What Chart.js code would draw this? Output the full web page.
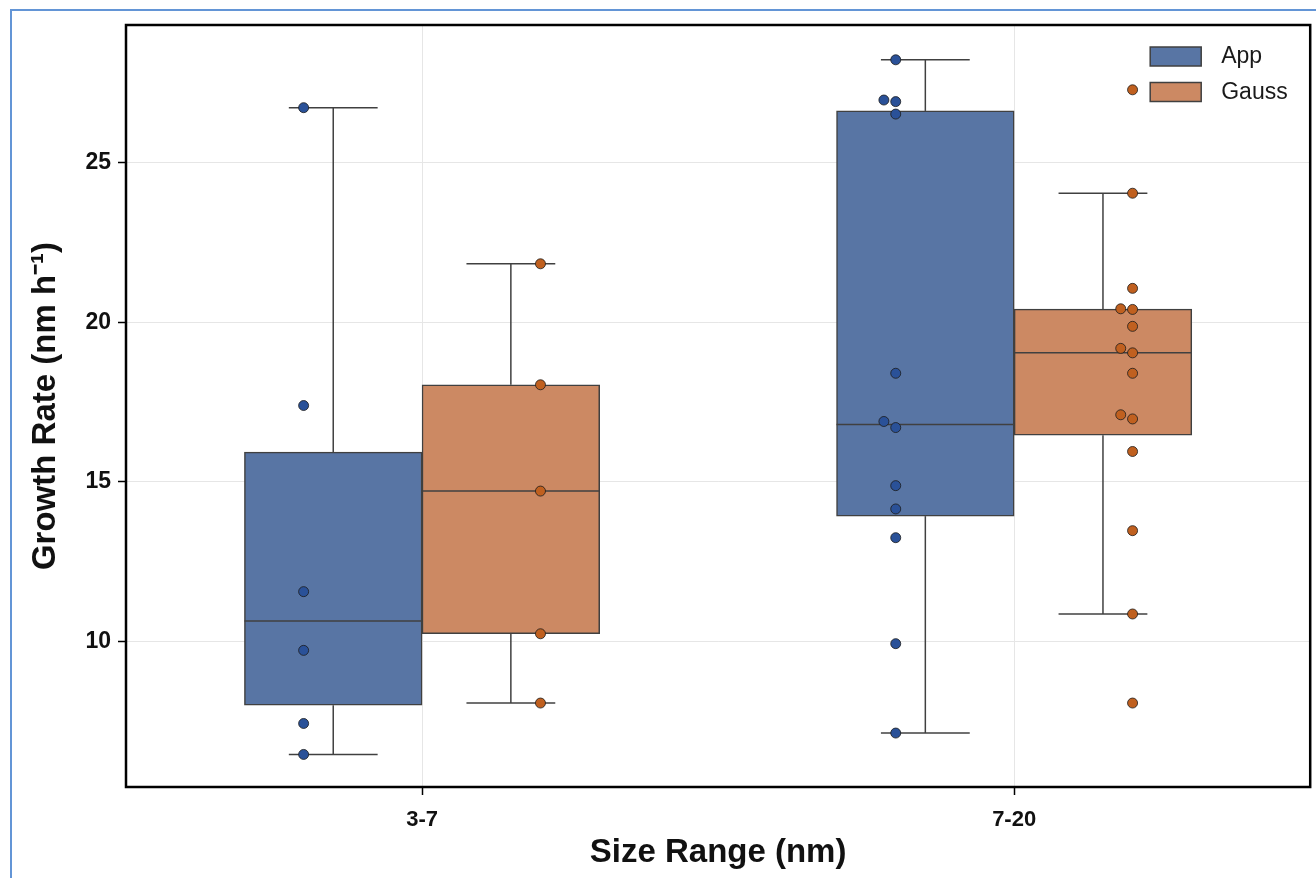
<!DOCTYPE html>
<html>
<head>
<meta charset="utf-8">
<title>Growth rate by size range</title>
<script src="https://cdn.jsdelivr.net/npm/chart.js@4.4.1/dist/chart.umd.min.js"></script>
<style>
  html, body { margin: 0; padding: 0; background: #fff; }
  #wrap { position: relative; width: 1316px; height: 878px; overflow: hidden; background: #fff; }
  #frame { position: absolute; left: 10px; top: 9px; right: -10px; bottom: -10px;
           border-left: 2px solid #6395d6; border-top: 2px solid #6395d6; }
  #chart { position: absolute; left: 0; top: 0; }
</style>
</head>
<body>
<div id="wrap">
  <div id="frame"></div>
  <canvas id="chart" width="1316" height="878"></canvas>
</div>
<script>
// growth rates (nm h^-1), one array per size range and method
const CATEGORIES = ['3-7', '7-20'];
const SERIES = ['App', 'Gauss'];
const APP_3_7 = [26.72, 17.39, 11.56, 9.72, 7.43, 6.46];
const GAUSS_3_7 = [21.83, 18.04, 14.71, 10.24, 8.07];
const APP_7_20 = [28.22, 26.96, 26.91, 26.52, 18.40, 16.89, 16.70, 14.88, 14.15, 13.25, 9.93, 7.13];
const GAUSS_7_20 = [27.28, 24.04, 21.06, 20.42, 20.40, 19.87, 19.18, 19.04, 18.40, 17.10, 16.97, 15.95, 13.47, 10.86, 8.07];
const Y_TICKS = [10, 15, 20, 25];

const GROUPS = { App: [APP_3_7, APP_7_20], Gauss: [GAUSS_3_7, GAUSS_7_20] };
const BOX_COLORS = { App: '#5875a4', Gauss: '#cc8963' };
const DOT_COLORS = { App: '#2a5198', Gauss: '#c0601f' };
const BOX_OFFSET = { App: -0.15, Gauss: 0.15 };   // dodge of the boxes
const DOT_OFFSET = { App: -0.2, Gauss: 0.2 };     // dodge of the strip points
const EDGE = '#404040';
const FONT = "'Liberation Sans', Arial, Helvetica, sans-serif";

Chart.defaults.font.family = FONT;

// same as numpy percentile (linear)
function quantile(sorted, p) {
  const pos = (sorted.length - 1) * p;
  const lo = Math.floor(pos), hi = Math.ceil(pos);
  return sorted[lo] + (sorted[hi] - sorted[lo]) * (pos - lo);
}

function boxStats(values) {
  const s = [...values].sort((a, b) => a - b);
  const q1 = quantile(s, 0.25), med = quantile(s, 0.5), q3 = quantile(s, 0.75);
  const iqr = q3 - q1;
  const inside = s.filter(v => v >= q1 - 1.5 * iqr && v <= q3 + 1.5 * iqr);
  return { q1, med, q3, lo: inside[0], hi: inside[inside.length - 1] };
}

// strip positions; nudge a point left when the next one would sit on top of it
function stripPoints(values, catIndex, offset) {
  return values.map((v, i) => {
    const next = values[i + 1];
    const nudge = next !== undefined && Math.abs(v - next) < 0.3 ? -0.02 : 0;
    return { x: catIndex + offset + nudge, y: v };
  });
}

// boxes are floating bars on the numeric axis; not grouped, so each sits at its own x
// and the width comes from the spacing between neighbouring boxes
const boxDatasets = SERIES.map(name => {
  const stats = GROUPS[name].map(boxStats);
  return {
    type: 'bar',
    label: name,
    data: stats.map((s, ci) => ({ x: ci + BOX_OFFSET[name], y: [s.q1, s.q3] })),
    stats: stats,
    grouped: false,
    backgroundColor: BOX_COLORS[name],
    borderColor: EDGE,
    borderWidth: 1.5,
    borderSkipped: false,
    categoryPercentage: 1.0,
    barPercentage: 1.0,
    xAxisID: 'x2',
    yAxisID: 'y',
    order: 2,
  };
});

const dotDatasets = SERIES.map(name => ({
  type: 'scatter',
  label: name + ' points',
  data: GROUPS[name].flatMap((vals, ci) => stripPoints(vals, ci, DOT_OFFSET[name])),
  pointRadius: 5,
  pointBackgroundColor: DOT_COLORS[name],
  pointBorderColor: '#1c1c1c',
  pointBorderWidth: 0.8,
  xAxisID: 'x2',
  yAxisID: 'y',
  order: 1,
}));

const whiskerPlugin = {
  id: 'whiskers',
  afterDatasetDraw(chart, args) {
    const ds = chart.data.datasets[args.index];
    if (!ds.stats) return;
    const ctx = chart.ctx;
    const y = chart.scales.y;
    ctx.save();
    ctx.strokeStyle = EDGE;
    ctx.lineWidth = 1.5;
    args.meta.data.forEach((bar, i) => {
      const s = ds.stats[i];
      const { x, width } = bar.getProps(['x', 'width'], true);
      const half = width / 2, cap = width / 4;
      const seg = (x0, y0, x1, y1) => {
        ctx.beginPath(); ctx.moveTo(x0, y0); ctx.lineTo(x1, y1); ctx.stroke();
      };
      const yMed = y.getPixelForValue(s.med);
      const yQ1 = y.getPixelForValue(s.q1), yQ3 = y.getPixelForValue(s.q3);
      const yLo = y.getPixelForValue(s.lo), yHi = y.getPixelForValue(s.hi);
      seg(x - half, yMed, x + half, yMed);
      seg(x, yQ3, x, yHi);
      seg(x - cap, yHi, x + cap, yHi);
      seg(x, yQ1, x, yLo);
      seg(x - cap, yLo, x + cap, yLo);
    });
    ctx.restore();
  },
};

const framePlugin = {
  id: 'frameAndLegend',
  afterDraw(chart) {
    const ctx = chart.ctx;
    const a = chart.chartArea;
    ctx.save();
    ctx.strokeStyle = '#000';
    ctx.lineWidth = 2.5;
    ctx.strokeRect(a.left, a.top, a.right - a.left, a.bottom - a.top);

    // legend, top right inside the axes
    const px = a.right - 160, py = a.top + 22;
    ctx.font = '23px ' + FONT;
    ctx.textBaseline = 'middle';
    chart.data.datasets.filter(d => d.stats).forEach((d, i) => {
      const top = py + i * 35.5;
      ctx.fillStyle = d.backgroundColor;
      ctx.fillRect(px, top, 51, 19);
      ctx.strokeStyle = EDGE;
      ctx.lineWidth = 1.5;
      ctx.strokeRect(px, top, 51, 19);
      ctx.fillStyle = '#1a1a1a';
      ctx.fillText(d.label, px + 71, top + 10);
    });
    ctx.restore();
  },
};

new Chart(document.getElementById('chart'), {
  type: 'bar',
  data: {
    labels: CATEGORIES,
    datasets: [...boxDatasets, ...dotDatasets],
  },
  options: {
    responsive: false,
    animation: false,
    layout: { padding: { left: 0, right: 4, top: 25, bottom: 0 } },
    plugins: {
      legend: { display: false },
      tooltip: { enabled: false },
    },
    scales: {
      x: {
        type: 'category',
        offset: true,
        grid: { offset: false, color: '#e6e6e6', lineWidth: 1, tickColor: '#000', tickLength: 8, tickWidth: 1.5 },
        border: { display: false },
        ticks: { color: '#111', font: { size: 22, weight: 'bold' }, padding: 12 },
        title: {
          display: true,
          text: 'Size Range (nm)',
          color: '#111',
          font: { size: 33, weight: 'bold' },
          padding: { top: 0, bottom: 5 },
        },
        afterFit: (s) => { s.height = 91; },
      },
      x2: {
        type: 'linear',
        min: -0.5,
        max: 1.5,
        offset: false,
        display: false,
        afterBuildTicks: (s) => { s.ticks = CATEGORIES.map((c, i) => ({ value: i })); },
      },
      y: {
        min: 5.44,
        max: 29.31,
        afterBuildTicks: (s) => { s.ticks = Y_TICKS.map(v => ({ value: v })); },
        grid: { color: '#e6e6e6', lineWidth: 1, tickColor: '#000', tickLength: 8, tickWidth: 1.5 },
        border: { display: false },
        ticks: { color: '#111', font: { size: 23, weight: 'bold' }, padding: 7 },
        title: {
          display: true,
          text: 'Growth Rate (nm h\u207B\u00B9)',
          color: '#111',
          font: { size: 33, weight: 'bold' },
          padding: { top: 26, bottom: 0 },
        },
        afterFit: (s) => { s.width = 126; },
      },
    },
  },
  plugins: [whiskerPlugin, framePlugin],
});
</script>
</body>
</html>
